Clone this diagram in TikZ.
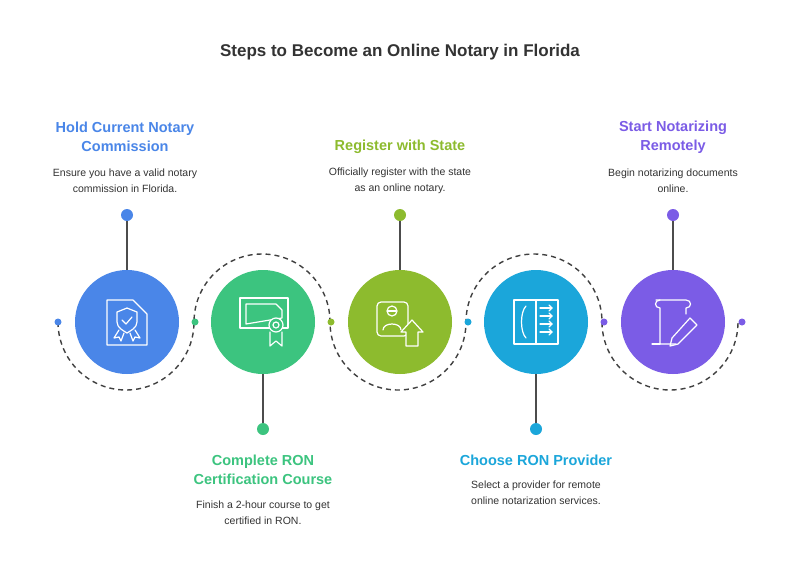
\documentclass[tikz,border=0pt]{standalone}
\usepackage{fontspec}
\setmainfont{Liberation Sans}
\begin{document}
\begin{tikzpicture}[x=1pt,y=-1pt,
  circ/.style={circle,minimum size=104pt,inner sep=0pt},
  bigdot/.style={circle,minimum size=12pt,inner sep=0pt},
  smalldot/.style={circle,minimum size=7pt,inner sep=0pt},
  conn/.style={line width=1.6pt,draw=black!70},
  dashl/.style={line width=1.4pt,draw=black!75,dash pattern=on 5pt off 4pt},
  head/.style={font=\bfseries\fontsize{14.5}{19}\selectfont,align=center},
  desc/.style={font=\fontsize{10.5}{16}\selectfont,align=center,text=black!80},
  ic/.style={draw=white,line width=1.2pt,line join=round,line cap=round}]
\definecolor{cA}{HTML}{4A86E8}
\definecolor{cB}{HTML}{3CC47F}
\definecolor{cC}{HTML}{8DBB2E}
\definecolor{cD}{HTML}{1BA6DA}
\definecolor{cE}{HTML}{7B5CE6}
\useasboundingbox (0,0) rectangle (800,576);
\fill[white] (0,0) rectangle (800,576);
\node[font=\bfseries\fontsize{17}{20}\selectfont,text=black!80] (title) at (400,52) {Steps to Become an Online Notary in Florida};
% dashed arcs
\draw[dashl] (58,322) arc[start angle=180,end angle=0,radius=68]
  arc[start angle=180,end angle=360,radius=68]
  arc[start angle=180,end angle=0,radius=68]
  arc[start angle=180,end angle=360,radius=68]
  arc[start angle=180,end angle=0,radius=68];
\node[smalldot,fill=cA] (d0) at (58,322) {};
\node[smalldot,fill=cB] (d1) at (195,322) {};
\node[smalldot,fill=cC] (d2) at (331,322) {};
\node[smalldot,fill=cD] (d3) at (468,322) {};
\node[smalldot,fill=cE] (d4) at (604,322) {};
\node[smalldot,fill=cE] (d5) at (742,322) {};
% circles
\node[circ,fill=cA] (c1) at (127,322) {};
\node[circ,fill=cB] (c2) at (263,322) {};
\node[circ,fill=cC] (c3) at (400,322) {};
\node[circ,fill=cD] (c4) at (536,322) {};
\node[circ,fill=cE] (c5) at (673,322) {};
\node[bigdot,fill=cA] (p1) at (127,215) {};
\node[bigdot,fill=cB] (p2) at (263,429) {};
\node[bigdot,fill=cC] (p3) at (400,215) {};
\node[bigdot,fill=cD] (p4) at (536,429) {};
\node[bigdot,fill=cE] (p5) at (673,215) {};
\draw[conn] (p1) -- (c1.north); \draw[conn] (p2) -- (c2.south);
\draw[conn] (p3) -- (c3.north); \draw[conn] (p4) -- (c4.south);
\draw[conn] (p5) -- (c5.north);
% icons
\draw[ic] (107,300) -- (133,300) -- (147,314) -- (147,345) -- (107,345) -- cycle;
\draw[ic] (117,312) -- (127,308) -- (137,312) -- (137,322) .. controls (137,328) and (130,331) .. (127,333) .. controls (124,331) and (117,328) .. (117,322) -- cycle;
\draw[ic] (122,320) -- (126,324) -- (132,317);
\draw[ic] (119,330) -- (114,338) -- (119,337) -- (121,341) -- (124,333);
\draw[ic] (135,330) -- (140,338) -- (135,337) -- (133,341) -- (130,333);
\draw[ic] (240,298) rectangle (288,328);
\draw[ic] (246,304) -- (276,304) -- (282,310) -- (282,318) -- (246,324) -- (246,304);
\node[circle,draw=white,line width=1.2pt,minimum size=14pt,inner sep=0pt,fill=cB] (ic2) at (276,325) {};
\draw[ic] (276,325) circle[radius=3];
\draw[ic] (270,332) -- (270,346) -- (276,341) -- (282,346) -- (282,332);
\draw[ic,rounded corners=4pt] (377,302) -- (408,302) -- (408,336) -- (377,336) -- cycle;
\draw[ic] (392,311) circle[radius=5];
\draw[ic] (388,311) -- (396,311);
\draw[ic] (383,330) .. controls (383,322) and (401,322) .. (401,330);
\draw[ic,fill=cC] (406,346) -- (406,332) -- (401,332) -- (412,320) -- (423,332) -- (418,332) -- (418,346) -- cycle;
\draw[ic] (514,300) rectangle (558,344);
\draw[ic] (536,300) -- (536,344);
\draw[ic] (526,306) .. controls (520,312) and (520,332) .. (526,338);
\foreach \yy/\ya/\yb in {308/305/311,316/313/319,324/321/327,332/329/335} {\draw[ic] (540,\yy) -- (552,\yy); \draw[ic] (549,\ya) -- (552,\yy) -- (549,\yb);}
\draw[ic] (656,300) -- (686,300) .. controls (692,300) and (692,308) .. (686,308) -- (686,314);
\draw[ic] (660,300) .. controls (654,300) and (654,308) .. (660,308) -- (660,344) -- (676,344);
\draw[ic] (690,318) -- (697,325) -- (678,344) -- (670,346) -- (672,338) -- cycle;
\draw[ic] (652,344) -- (660,344);
% texts
\node[head,text=cA] (h1) at (125,137) {Hold Current Notary\\Commission};
\node[desc] (t1) at (125,181) {Ensure you have a valid notary\\commission in Florida.};
\node[head,text=cB] (h2) at (263,470) {Complete RON\\Certification Course};
\node[desc] (t2) at (263,513) {Finish a 2-hour course to get\\certified in RON.};
\node[head,text=cC] (h3) at (400,147) {Register with State};
\node[desc] (t3) at (400,181) {Officially register with the state\\as an online notary.};
\node[head,text=cD] (h4) at (536,460) {Choose RON Provider};
\node[desc] (t4) at (536,493) {Select a provider for remote\\online notarization services.};
\node[head,text=cE] (h5) at (673,137) {Start Notarizing\\Remotely};
\node[desc] (t5) at (673,181) {Begin notarizing documents\\online.};
\end{tikzpicture}
\end{document}
